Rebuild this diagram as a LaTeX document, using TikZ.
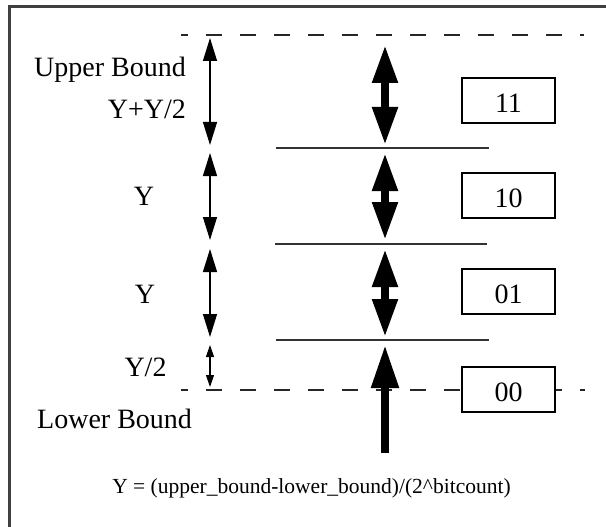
\documentclass[tikz,border=0pt]{standalone}
\usepackage{fontspec}
\setmainfont{Liberation Serif}
\usetikzlibrary{arrows.meta}
\begin{document}
\begin{tikzpicture}[x=1pt,y=-1pt,
  lbl/.style={font=\fontsize{28}{30}\selectfont, inner sep=0pt},
  valbox/.style={draw, line width=1.5pt, fill=white, minimum width=93pt, minimum height=45pt,
                 inner sep=0pt, font=\fontsize{28}{30}\selectfont, text height=24pt},
  frameline/.style={draw=black!75, line width=2.5pt},
  dashline/.style={draw=black!85, line width=1.5pt, dash pattern=on 16pt off 18pt, dash phase=9pt},
  levelline/.style={draw=black!80, line width=1.6pt},
  thinarrow/.style={line width=1.2pt, {Triangle[length=23pt,width=14pt]}-{Triangle[length=23pt,width=14pt]}},
  smallarrow/.style={line width=1.2pt, {Triangle[length=12pt,width=8pt]}-{Triangle[length=12pt,width=8pt]}},
  thickarrow/.style={line width=8pt, {Triangle[length=38pt,width=24pt]}-{Triangle[length=38pt,width=24pt]}},
  uparrow/.style={line width=8pt, -{Triangle[length=43pt,width=26pt]}}
]
\useasboundingbox (0,0) rectangle (606,527);
\fill[white] (0,0) rectangle (606,527);

% frame (top and left edges)
\coordinate (fa) at (9.5,6.5);
\coordinate (fb) at (606,6.5);
\coordinate (fc) at (9.5,527);
\draw[frameline] (fb) -- (fa) -- (fc);

% dashed bounds
\coordinate (tl) at (181,35);
\coordinate (tr) at (584,35);
\coordinate (bl) at (181,390);
\coordinate (br) at (585,390);
\draw[dashline] (tl) -- (tr);
\draw[dashline] (bl) -- (br);

% level lines
\coordinate (l1a) at (276,148); \coordinate (l1b) at (489,148);
\coordinate (l2a) at (275,244); \coordinate (l2b) at (487,244);
\coordinate (l3a) at (276,340); \coordinate (l3b) at (489,340);
\draw[levelline] (l1a) -- (l1b);
\draw[levelline] (l2a) -- (l2b);
\draw[levelline] (l3a) -- (l3b);

% value boxes
\node[valbox] (b11) at (508.5,100.5) {11};
\node[valbox] (b10) at (508.5,195.5) {10};
\node[valbox] (b01) at (508.5,291.5) {01};
\node[valbox] (b00) at (508.5,389.5) {00};

% thin arrows
\coordinate (t1a) at (210,38);  \coordinate (t1b) at (210,145);
\coordinate (t2a) at (210,153); \coordinate (t2b) at (210,240);
\coordinate (t3a) at (210,249); \coordinate (t3b) at (210,337);
\coordinate (t4a) at (210,345); \coordinate (t4b) at (210,387);
\draw[thinarrow] (t1a) -- (t1b);
\draw[thinarrow] (t2a) -- (t2b);
\draw[thinarrow] (t3a) -- (t3b);
\draw[smallarrow] (t4a) -- (t4b);

% thick arrows
\coordinate (k1a) at (385,45);  \coordinate (k1b) at (385,145);
\coordinate (k2a) at (385,153); \coordinate (k2b) at (385,240);
\coordinate (k3a) at (385,249); \coordinate (k3b) at (385,337);
\coordinate (k4a) at (385,453); \coordinate (k4b) at (385,345);
\draw[thickarrow] (k1a) -- (k1b);
\draw[thickarrow] (k2a) -- (k2b);
\draw[thickarrow] (k3a) -- (k3b);
\draw[uparrow] (k4a) -- (k4b);

% labels
\node[lbl, anchor=base east] (ub) at (186,77) {Upper Bound};
\node[lbl, anchor=base east] (yy2) at (186,118) {Y+Y/2};
\node[lbl, anchor=base] (y1) at (144,205) {Y};
\node[lbl, anchor=base] (y2) at (145,303) {Y};
\node[lbl, anchor=base] (yh) at (145.5,376) {Y/2};
\node[lbl, anchor=base west] (lb) at (37,428) {Lower Bound};
\node[font=\fontsize{21.5}{24}\selectfont, inner sep=0pt, anchor=base] (fm) at (311.5,493)
  {Y = (upper\_bound-lower\_bound)/(2\textasciicircum bitcount)};
\end{tikzpicture}
\end{document}
